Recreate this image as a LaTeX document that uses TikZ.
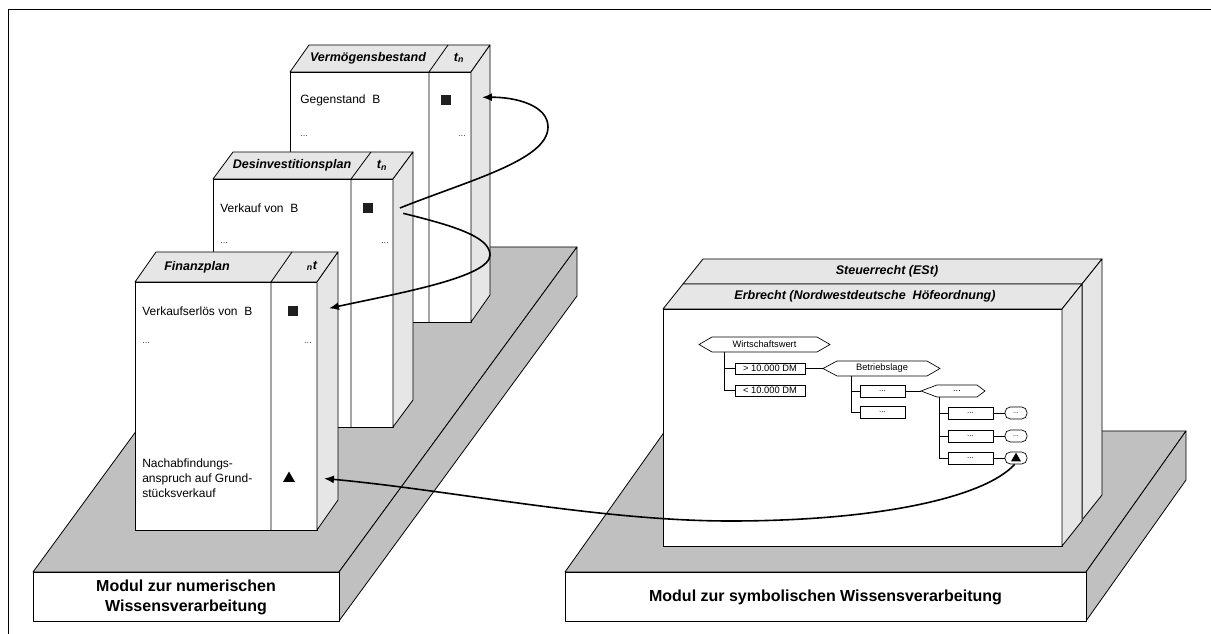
\documentclass[tikz,border=0pt]{standalone}
\usepackage{fontspec}
\setmainfont{Liberation Sans}
\usetikzlibrary{arrows.meta,shapes.geometric}
\definecolor{facegray}{HTML}{E6E6E6}
\definecolor{basegray}{HTML}{C0C0C0}
\tikzset{
  edge/.style={draw=black, line width=0.6pt, line join=round},
  face/.style={fill=facegray, draw=black, line width=0.6pt, line join=round},
  base/.style={fill=basegray, draw=black, line width=0.6pt, line join=round},
  body/.style={font=\fontsize{9}{11.25}\selectfont, inner sep=0pt},
  head/.style={font=\fontsize{9.4}{11}\selectfont\bfseries\itshape, inner sep=0pt},
  dots/.style={font=\fontsize{7}{8}\selectfont, text=black!75, inner sep=0pt},
  sq/.style={rectangle, fill=black!88, minimum size=7.5pt, inner sep=0pt},
  tri/.style={regular polygon, regular polygon sides=3, fill=black, inner sep=0pt, minimum size=10.4pt},
  link/.style={line width=1.2pt, -{Latex[length=7.5pt,width=6pt]}},
  modtxt/.style={font=\fontsize{12}{15}\selectfont\bfseries, align=center, inner sep=0pt},
  tline/.style={draw=black, line width=0.5pt},
  ttxt/.style={font=\fontsize{7}{8}\selectfont, inner sep=0pt},
  vbox/.style={draw=black, line width=0.5pt, fill=white, rectangle, inner sep=0pt, minimum width=52.5pt, minimum height=8.25pt, font=\fontsize{7}{8}\selectfont},
  dbox/.style={draw=black, line width=0.5pt, fill=white, rectangle, inner sep=0pt, minimum width=33.75pt, minimum height=9pt, font=\fontsize{6}{7}\selectfont},
  rbox/.style={draw=black, line width=0.5pt, fill=white, rectangle, rounded corners=4pt, inner sep=0pt, minimum width=16.5pt, minimum height=9pt, font=\fontsize{5}{6}\selectfont},
}
% L S R T B dx dy
\newcommand\drawbox[7]{%
  \filldraw[fill=white,edge] (#1,#4) rectangle (#3,#5);
  \filldraw[face] (#1,#4) -- (#1+#6,#4-#7) -- (#3+#6,#4-#7) -- (#3,#4) -- cycle;
  \filldraw[face] (#3,#4) -- (#3+#6,#4-#7) -- (#3+#6,#5-#7) -- (#3,#5) -- cycle;
  \draw[edge] (#2,#5) -- (#2,#4) -- (#2+#6,#4-#7);
}
% L R T B dx dy
\newcommand\drawslab[6]{%
  \filldraw[fill=white,edge] (#1,#3) rectangle (#2,#4);
  \filldraw[face] (#1,#3) -- (#1+#5,#3-#6) -- (#2+#5,#3-#6) -- (#2,#3) -- cycle;
  \filldraw[face] (#2,#3) -- (#2+#5,#3-#6) -- (#2+#5,#4-#6) -- (#2,#4) -- cycle;
}
% name cx cy hw hh leftdepth rightdepth text
\newcommand\hexa[8]{%
  \filldraw[fill=white, draw=black, line width=0.5pt] (#2-#4,#3-#5) -- (#2-#4-#6,#3) -- (#2-#4,#3+#5) -- (#2+#4,#3+#5) -- (#2+#4+#7,#3) -- (#2+#4,#3-#5) -- cycle;
  \coordinate (#1-w) at (#2-#4-#6,#3);
  \coordinate (#1-e) at (#2+#4+#7,#3);
  \coordinate (#1-sw) at (#2-#4,#3+#5);
  \node[ttxt] (#1) at (#2,#3) {#8};
}
\begin{document}
\begin{tikzpicture}[x=0.75pt,y=-0.75pt]
\useasboundingbox[fill=white] (0,0) rectangle (1211,634);
% frame
\draw[edge] (8,640) -- (8,9) -- (1211,9);

% ---------- left platform ----------
\filldraw[base] (33,572) -- (271,247) -- (577,247) -- (339,572) -- cycle;
\filldraw[base] (339,572) -- (577,247) -- (577,296) -- (339,621) -- cycle;
\filldraw[fill=white,edge] (33,572) rectangle (339,621);
\node[modtxt] (mnum) at (186,597) {Modul zur numerischen\\Wissensverarbeitung};

% ---------- right platform ----------
\filldraw[base] (565,572) -- (665,431) -- (1186,431) -- (1086,572) -- cycle;
\filldraw[base] (1086,572) -- (1186,431) -- (1186,480) -- (1086,621) -- cycle;
\filldraw[fill=white,edge] (565,572) rectangle (1086,621);
\node[modtxt] (msym) at (825.5,597) {Modul zur symbolischen Wissensverarbeitung};

% ---------- Vermoegensbestand ----------
\drawbox{290}{429}{471}{72}{322}{19}{27}
\node[head] (vh) at (368,58) {Vermögensbestand};
\node[head] (vt) at (459,58) {t\textsubscript{n}};
\node[body,anchor=west] (vg) at (300,100) {Gegenstand~ B};
\node[sq] (vsq) at (446,100) {};
\node[dots,anchor=west] (vd1) at (300,136) {...};
\node[dots] (vd2) at (462,136) {...};

% ---------- Desinvestitionsplan ----------
\drawbox{213}{351}{393}{179}{427}{20}{27}
\node[head] (dh) at (292,165.5) {Desinvestitionsplan};
\node[head] (dt) at (382,165.5) {t\textsubscript{n}};
\node[body,anchor=west] (dv) at (220,208) {Verkauf von~ B};
\node[sq] (dsq) at (368,208) {};
\node[dots,anchor=west] (dd1) at (220,243) {...};
\node[dots] (dd2) at (385,243) {...};

% ---------- Finanzplan ----------
\drawbox{135}{271}{317}{282}{530}{21}{30}
\node[head] (fh) at (197,267) {Finanzplan};
\node[head] (ft) at (312,266) {\textsubscript{n}t};
\node[body,anchor=west] (fv) at (142,311) {Verkaufserlös von~ B};
\node[sq] (fsq) at (293,311) {};
\node[dots,anchor=west] (fd1) at (142,343) {...};
\node[dots] (fd2) at (308,343) {...};
\node[body,anchor=west,align=left] (fn) at (142,478) {Nachabfindungs-\\anspruch auf Grund-\\stücksverkauf};
\node[tri] (ftri) at (289,478.5) {};

% curves between plans
\coordinate (c1a) at ([xshift=20pt,yshift=0pt]dsq.east);
\coordinate (c1b) at ([xshift=23pt,yshift=2pt]vsq.east);
\draw[link] (c1a) .. controls (470,180) and (548,160) .. (548,127) .. controls (548,105) and (515,97) .. (c1b);
\coordinate (c2a) at ([xshift=22.5pt,yshift=-4pt]dsq.east);
\coordinate (c2b) at ([xshift=23pt,yshift=2pt]fsq.east);
\draw[link] (c2a) .. controls (450,225) and (490,236) .. (490,255) .. controls (490,277) and (400,293) .. (c2b);

% ---------- right cabinet ----------
\drawslab{683}{1082}{284}{520}{20}{25}
\draw[black!60, line width=1.2pt] (1082.5,284) -- (1082.5,520);
\drawslab{663}{1062}{309}{546}{20}{25}
\node[head] (sth) at (887,271) {Steuerrecht (ESt)};
\node[head] (erh) at (865,296) {Erbrecht (Nordwestdeutsche~ Höfeordnung)};

% tree
\hexa{ww}{764.5}{344.5}{52.5}{7.5}{13}{13}{Wirtschaftswert}
\node[vbox] (gt) at (770,368.5) {> 10.000 DM};
\node[vbox] (lt) at (770,390.5) {< 10.000 DM};
\draw[tline] ([xshift=9pt]ww-sw) |- (gt.west);
\draw[tline] ([xshift=9pt]ww-sw) |- (lt.west);
\hexa{bl}{882}{368.5}{45}{7.5}{14}{13}{Betriebslage}
\draw[tline] (gt.east) -- (bl-w);
\node[dbox] (d1) at (882.5,391) {...};
\node[dbox] (d2) at (882.5,412.5) {...};
\draw[tline] ([xshift=10.5pt]bl-sw) |- (d1.west);
\draw[tline] ([xshift=10.5pt]bl-sw) |- (d2.west);
\hexa{h2}{957}{391}{20}{6}{16}{8}{...}
\draw[tline] (d1.east) -- (h2-w);
\node[dbox] (e1) at (970.5,413) {...};
\node[dbox] (e2) at (970.5,436) {...};
\node[dbox] (e3) at (970.5,458) {...};
\draw[tline] ([xshift=1.5pt]h2-sw) |- (e1.west);
\draw[tline] ([xshift=1.5pt]h2-sw) |- (e2.west);
\draw[tline] ([xshift=1.5pt]h2-sw) |- (e3.west);
\node[rbox] (r1) at (1016,413) {...};
\node[rbox] (r2) at (1016,436) {...};
\node[rbox] (r3) at (1016,458) {};
\node[tri, minimum size=8.7pt] (rtri) at (1016,458.5) {};
\draw[tline] (e1.east) -- (r1.west);
\draw[tline] (e2.east) -- (r2.west);
\draw[tline] (e3.east) -- (r3.west);

% curve from tree to Finanzplan
\coordinate (c3b) at ([xshift=23pt]ftri.east);
\draw[link] ([xshift=-1pt]r3.south) .. controls (985,497) and (880,521) .. (730,521) .. controls (600,521) and (450,490) .. (c3b);
\end{tikzpicture}
\end{document}
